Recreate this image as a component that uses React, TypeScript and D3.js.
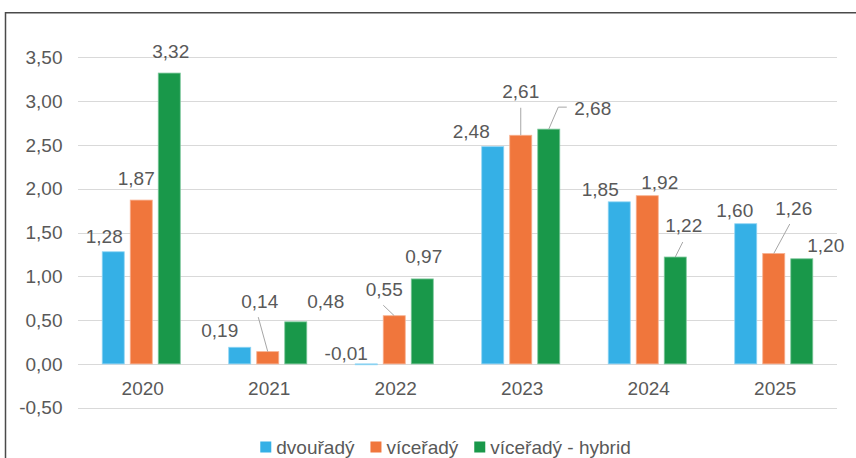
import React, { useEffect, useRef } from "react";
import * as d3 from "d3";

const years = ["2020", "2021", "2022", "2023", "2024", "2025"];
const seriesNames = ["dvouřadý", "víceřadý", "víceřadý - hybrid"];
const dvouradyValues = [1.28, 0.19, -0.01, 2.48, 1.85, 1.6];
const viceradyValues = [1.87, 0.14, 0.55, 2.61, 1.92, 1.26];
const hybridValues = [3.32, 0.48, 0.97, 2.68, 1.22, 1.2];
const yTicks = [-0.5, 0, 0.5, 1, 1.5, 2, 2.5, 3, 3.5];

const colors = ["#35b0e6", "#f0763c", "#19984a"];
const strokes = ["#8fd4f3", "#f7b08f", "#7cc79a"];

// label placement (dx, dy from bar top centre), as Excel had them moved by hand
const labelOffsets = [
  [[-9, -8.5], [-20, -10], [-20, -4], [-21.5, -8.5], [-19, -6], [-11, -7]],
  [[-5, -15], [-8, -43.5], [-10, -19.5], [0, -37.5], [12.5, -6.5], [20, -38.5]],
  [[1.5, -15], [30, -14], [1.5, -15.5], [44, -14.5], [8.5, -25.5], [24, -7]],
];

// leader lines: series, year index, start point and optional elbow (relative to bar top)
const leaders = [
  { s: 1, i: 1, pts: [[-9.5, -34.5]] },
  { s: 1, i: 2, pts: [[-11, -10.5]] },
  { s: 1, i: 3, pts: [[0, -27.5]] },
  { s: 1, i: 5, pts: [[16, -29.5]] },
  { s: 2, i: 3, pts: [[18, -22], [9.5, -22]] },
  { s: 2, i: 4, pts: [[7.5, -15]] },
];

const fmt = (v: number) => v.toFixed(2).replace(".", ",");

const App = () => {
  const ref = useRef<SVGSVGElement>(null);
  const width = 856;
  const height = 458;
  const plot = { left: 78, right: 837, top: 57.3, bottom: 407.7 };
  const font = "'Liberation Sans', Arial, Helvetica, sans-serif";
  const textColor = "#595959";

  useEffect(() => {
    const svg = d3.select(ref.current);
    svg.selectAll("*").remove();
    const series = [dvouradyValues, viceradyValues, hybridValues];

    const x = d3
      .scaleBand()
      .domain(years)
      .range([plot.left, plot.right])
      .paddingInner(0.383)
      .paddingOuter(0.1915);

    const xs = d3
      .scaleBand()
      .domain(seriesNames)
      .range([0, x.bandwidth()])
      .paddingInner(0.2143);

    const y = d3
      .scaleLinear()
      .domain([-0.5, 3.5])
      .range([plot.bottom, plot.top]);

    // frame
    svg
      .append("rect")
      .attr("x", 5.5)
      .attr("y", 12.75)
      .attr("width", 900)
      .attr("height", 500)
      .attr("fill", "none")
      .attr("stroke", "#4a4a4a")
      .attr("stroke-width", 1.5);

    // gridlines
    svg
      .append("g")
      .selectAll("line")
      .data(yTicks)
      .enter()
      .append("line")
      .attr("x1", plot.left)
      .attr("x2", plot.right)
      .attr("y1", (d) => Math.round(y(d)) + 0.5)
      .attr("y2", (d) => Math.round(y(d)) + 0.5)
      .attr("stroke", "#d9d9d9")
      .attr("stroke-width", 1.2);

    // y labels
    svg
      .append("g")
      .selectAll("text")
      .data(yTicks)
      .enter()
      .append("text")
      .attr("x", 62.5)
      .attr("y", (d) => y(d))
      .attr("dy", "0.35em")
      .attr("text-anchor", "end")
      .style("font-family", font)
      .style("font-size", "19px")
      .attr("fill", textColor)
      .text((d) => fmt(d));

    // x labels
    svg
      .append("g")
      .selectAll("text")
      .data(years)
      .enter()
      .append("text")
      .attr("x", (d) => (x(d) as number) + x.bandwidth() / 2 + 1.5)
      .attr("y", 395)
      .attr("text-anchor", "middle")
      .style("font-family", font)
      .style("font-size", "19px")
      .attr("fill", textColor)
      .text((d) => d);

    // bars
    series.forEach((vals, s) => {
      svg
        .append("g")
        .selectAll("rect")
        .data(vals)
        .enter()
        .append("rect")
        .attr("x", (d, i) => (x(years[i]) as number) + (xs(seriesNames[s]) as number))
        .attr("y", (d) => y(Math.max(0, d)))
        .attr("width", xs.bandwidth())
        .attr("height", (d) => Math.abs(y(d) - y(0)))
        .attr("fill", colors[s])
        .attr("stroke", strokes[s])
        .attr("stroke-width", 0.8);
    });

    const barTop = (s: number, i: number) => {
      const v = series[s][i];
      return [
        (x(years[i]) as number) + (xs(seriesNames[s]) as number) + xs.bandwidth() / 2,
        y(Math.max(0, v)),
      ];
    };

    // leader lines
    leaders.forEach((l) => {
      const [cx, cy] = barTop(l.s, l.i);
      const pts: [number, number][] = l.pts.map((p) => [cx + p[0], cy + p[1]]);
      pts.push([cx, cy]);
      svg
        .append("path")
        .attr("d", d3.line()(pts))
        .attr("fill", "none")
        .attr("stroke", "#a6a6a6")
        .attr("stroke-width", 1);
    });

    // data labels
    series.forEach((vals, s) => {
      svg
        .append("g")
        .selectAll("text")
        .data(vals)
        .enter()
        .append("text")
        .attr("x", (d, i) => barTop(s, i)[0] + labelOffsets[s][i][0])
        .attr("y", (d, i) => barTop(s, i)[1] + labelOffsets[s][i][1])
        .attr("text-anchor", "middle")
        .style("font-family", font)
        .style("font-size", "19px")
        .attr("fill", textColor)
        .text((d) => fmt(d));
    });

    // legend
    const legend = svg.append("g");
    let lx = 0;
    const items: { g: any; w: number }[] = [];
    seriesNames.forEach((name, s) => {
      const g = legend.append("g");
      g.append("rect")
        .attr("x", 0)
        .attr("y", 441.5)
        .attr("width", 11)
        .attr("height", 11)
        .attr("fill", colors[s]);
      const t = g
        .append("text")
        .attr("x", 16)
        .attr("y", 453.5)
        .style("font-family", font)
        .style("font-size", "19px")
        .attr("fill", textColor)
        .text(name);
      const w = 16 + (t.node() as SVGTextElement).getComputedTextLength();
      items.push({ g, w });
    });
    const total = d3.sum(items, (d) => d.w) + 16 * (items.length - 1);
    lx = 445.5 - total / 2;
    items.forEach((it) => {
      it.g.attr("transform", `translate(${lx},0)`);
      lx += it.w + 16;
    });
  }, []);

  return (
    <svg
      ref={ref}
      width={width}
      height={height}
      style={{ position: "absolute", left: 0, top: 0, background: "#fff" }}
    />
  );
};

export default App;
